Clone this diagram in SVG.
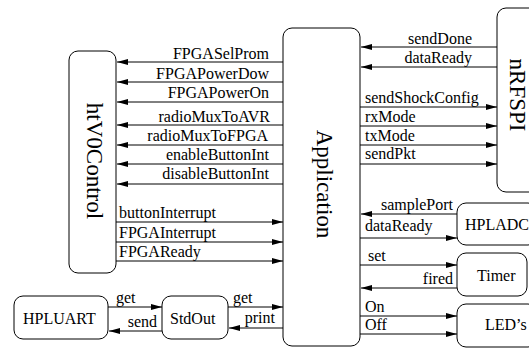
<svg xmlns="http://www.w3.org/2000/svg" width="529" height="350" viewBox="0 0 529 350">
  <style>
    .box { fill: #ffffff; stroke: #000000; stroke-width: 1; }
    .lbl { font-size: 16px; fill: #000000; }
    .end { text-anchor: end; }
    .big { font-size: 23px; fill: #000000; text-anchor: middle; }
    .wire { stroke: #000000; stroke-width: 1; fill: none; marker-end: url(#head); }
  </style>
  <defs>
    <marker id="head" markerUnits="userSpaceOnUse" markerWidth="11" markerHeight="6" refX="11" refY="3" orient="auto">
      <path d="M0,0 L11,3 L0,6 z" fill="#000000"/>
    </marker>
  </defs>
  <rect width="529" height="350" fill="#ffffff"/>

  <g font-family="Liberation Serif, DejaVu Serif, serif">
  <!-- components -->
  <g id="htV0Control">
    <rect class="box" x="69" y="51" width="47" height="222" rx="9"/>
    <text class="big" transform="translate(87,161) rotate(90)">htV0Control</text>
  </g>
  <g id="Application">
    <rect class="box" x="283" y="28" width="77" height="318" rx="9"/>
    <text class="big" transform="translate(317,184) rotate(90)">Application</text>
  </g>
  <g id="nRFSPI">
    <rect class="box" x="497" y="8" width="50" height="184" rx="9"/>
    <text class="big" transform="translate(510,95) rotate(90)">nRFSPI</text>
  </g>
  <g id="HPLADC">
    <rect class="box" x="457" y="203" width="80" height="42" rx="9"/>
    <text class="lbl" x="465" y="230">HPLADC</text>
  </g>
  <g id="Timer">
    <rect class="box" x="457" y="253" width="70" height="43" rx="9"/>
    <text class="lbl" x="477" y="281">Timer</text>
  </g>
  <g id="LEDs">
    <rect class="box" x="457" y="304" width="80" height="43" rx="9"/>
    <text class="lbl" x="485" y="330">LED’s</text>
  </g>
  <g id="HPLUART">
    <rect class="box" x="14" y="296" width="94" height="43" rx="9"/>
    <text class="lbl" x="23" y="324">HPLUART</text>
  </g>
  <g id="StdOut">
    <rect class="box" x="162" y="296" width="66" height="43" rx="9"/>
    <text class="lbl" x="170" y="324">StdOut</text>
  </g>

  <!-- connectors -->
  <g id="connectors">
    <!-- Application -> htV0Control -->
    <line class="wire" x1="283" y1="62" x2="117" y2="62"/>
    <line class="wire" x1="283" y1="82" x2="117" y2="82"/>
    <line class="wire" x1="283" y1="102" x2="117" y2="102"/>
    <line class="wire" x1="283" y1="125" x2="117" y2="125"/>
    <line class="wire" x1="283" y1="145" x2="117" y2="145"/>
    <line class="wire" x1="283" y1="164" x2="117" y2="164"/>
    <line class="wire" x1="283" y1="184" x2="117" y2="184"/>
    <text class="lbl end" x="269" y="59">FPGASelProm</text>
    <text class="lbl end" x="269" y="79">FPGAPowerDow</text>
    <text class="lbl end" x="269" y="98">FPGAPowerOn</text>
    <text class="lbl end" x="270" y="122">radioMuxToAVR</text>
    <text class="lbl end" x="268" y="141">radioMuxToFPGA</text>
    <text class="lbl end" x="269" y="160">enableButtonInt</text>
    <text class="lbl end" x="269" y="179">disableButtonInt</text>

    <!-- htV0Control -> Application -->
    <line class="wire" x1="116" y1="222" x2="283" y2="222"/>
    <line class="wire" x1="116" y1="242" x2="283" y2="242"/>
    <line class="wire" x1="116" y1="261" x2="283" y2="261"/>
    <text class="lbl" x="119" y="218">buttonInterrupt</text>
    <text class="lbl" x="119" y="238">FPGAInterrupt</text>
    <text class="lbl" x="119" y="257">FPGAReady</text>

    <!-- nRFSPI <-> Application -->
    <line class="wire" x1="497" y1="47" x2="361" y2="47"/>
    <line class="wire" x1="497" y1="67" x2="361" y2="67"/>
    <text class="lbl end" x="472" y="44">sendDone</text>
    <text class="lbl end" x="472" y="63">dataReady</text>
    <line class="wire" x1="360" y1="107" x2="497" y2="107"/>
    <line class="wire" x1="360" y1="126" x2="497" y2="126"/>
    <line class="wire" x1="360" y1="145" x2="497" y2="145"/>
    <line class="wire" x1="360" y1="164" x2="497" y2="164"/>
    <text class="lbl" x="365" y="103">sendShockConfig</text>
    <text class="lbl" x="365" y="122">rxMode</text>
    <text class="lbl" x="365" y="141">txMode</text>
    <text class="lbl" x="365" y="159">sendPkt</text>

    <!-- HPLADC <-> Application -->
    <line class="wire" x1="457" y1="214" x2="361" y2="214"/>
    <text class="lbl end" x="453" y="210">samplePort</text>
    <line class="wire" x1="360" y1="238" x2="457" y2="238"/>
    <text class="lbl" x="365" y="231">dataReady</text>

    <!-- Timer <-> Application -->
    <line class="wire" x1="360" y1="265" x2="457" y2="265"/>
    <text class="lbl" x="368" y="261">set</text>
    <line class="wire" x1="457" y1="288" x2="361" y2="288"/>
    <text class="lbl end" x="453" y="284">fired</text>

    <!-- Application -> LED's -->
    <line class="wire" x1="360" y1="316" x2="457" y2="316"/>
    <text class="lbl" x="365" y="312">On</text>
    <line class="wire" x1="360" y1="334" x2="457" y2="334"/>
    <text class="lbl" x="365" y="330">Off</text>

    <!-- HPLUART <-> StdOut -->
    <line class="wire" x1="108" y1="307" x2="162" y2="307"/>
    <text class="lbl" x="116" y="303">get</text>
    <line class="wire" x1="162" y1="331" x2="109" y2="331"/>
    <text class="lbl end" x="157" y="327">send</text>

    <!-- StdOut <-> Application -->
    <line class="wire" x1="228" y1="307" x2="283" y2="307"/>
    <text class="lbl" x="233" y="303">get</text>
    <line class="wire" x1="283" y1="328" x2="229" y2="328"/>
    <text class="lbl end" x="275" y="323">print</text>
  </g>
  </g>
</svg>
